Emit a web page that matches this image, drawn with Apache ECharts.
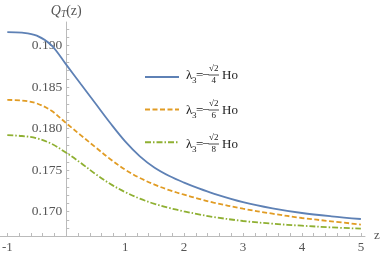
<!DOCTYPE html>
<html><head><meta charset="utf-8">
<script src="https://cdn.jsdelivr.net/npm/echarts@6/dist/echarts.min.js"></script>
<style>html,body{margin:0;padding:0;background:#fff}#c{width:382px;height:256px}</style>
</head><body><div id="c"></div>
<script>
const zValues = [-1, -0.75, -0.5, -0.25, 0, 0.25, 0.5, 0.75, 1, 1.25, 1.5, 1.75, 2, 2.25, 2.5, 3, 3.5, 4, 4.5, 5];
const qBlue   = [0.19165, 0.19158, 0.19122, 0.19005, 0.18772, 0.18535, 0.18300, 0.18065, 0.17847, 0.17667, 0.17530, 0.17430, 0.17350, 0.17280, 0.17218, 0.17115, 0.17040, 0.16984, 0.16944, 0.16912];
const qOrange = [0.18347, 0.18340, 0.18305, 0.18215, 0.18066, 0.17920, 0.17775, 0.17632, 0.17506, 0.17406, 0.17326, 0.17259, 0.17205, 0.17155, 0.17110, 0.17036, 0.16976, 0.16924, 0.16884, 0.16845];
const qGreen  = [0.17923, 0.17912, 0.17885, 0.17818, 0.17710, 0.17586, 0.17452, 0.17334, 0.17236, 0.17157, 0.17094, 0.17045, 0.17004, 0.16968, 0.16936, 0.16888, 0.16855, 0.16831, 0.16811, 0.16795];
const seriesNames = ['blue', 'orange', 'green'];
const denominators = ['4', '6', '8'];
const xTickLabels = [-1, 1, 2, 3, 4, 5];
const yTickLabels = [0.170, 0.175, 0.180, 0.185, 0.190];

const xMinor = []; for (let i = -5; i <= 25; i++) xMinor.push(+(i * 0.2).toFixed(2));
const yMinor = []; for (let i = 168; i <= 192; i++) yMinor.push(+(i / 1000).toFixed(3));

const serif = 'Liberation Serif';
const colors = ['#5E81B5', '#E19C24', '#8FB032'];
const textColor = '#555';
const pairs = a => zValues.map((z, i) => [z, a[i]]);

const X_MIN = -1.124, X_MAX = 5.07, GRID_LEFT = 0, GRID_RIGHT = 17, W = 382;
const zeroOffset = (W - GRID_LEFT - GRID_RIGHT) * (0 - X_MIN) / (X_MAX - X_MIN);

const chart = echarts.init(document.getElementById('c'), null, {renderer: 'canvas'});
const legendCenters = [77, 112, 146];
const graphics = [];
denominators.forEach((d, k) => {
  const c = legendCenters[k];
  graphics.push(
    {type: 'text', left: 186, top: c - 8, style: {text: 'λ', font: '13px ' + serif, fill: '#222'}},
    {type: 'text', left: 192, top: c - 1, style: {text: '3', font: '9px ' + serif, fill: '#222'}},
    {type: 'text', left: 196, top: c - 8, style: {text: '=', font: '13px ' + serif, fill: '#222'}},
    {type: 'text', left: 202, top: c - 8, style: {text: '−', font: '13px ' + serif, fill: '#222'}},
    {type: 'text', left: 209, top: c - 13, style: {text: '√2', font: '9px ' + serif, fill: '#222'}},
    {type: 'line', shape: {x1: 208.5, y1: c - 2, x2: 219, y2: c - 2}, style: {stroke: '#222', lineWidth: 0.8}},
    {type: 'text', left: 211.5, top: c - 0.5, style: {text: d, font: '9px ' + serif, fill: '#222'}},
    {type: 'text', left: 222, top: c - 8, style: {text: 'Ho', font: '13px ' + serif, fill: '#222'}}
  );
});

chart.setOption({
  animation: false,
  grid: {left: GRID_LEFT, right: GRID_RIGHT, top: 22, bottom: 20, containLabel: false, outerBoundsMode: 'none'},
  legend: {
    orient: 'vertical', left: 144, top: 70, padding: 0, itemWidth: 34, itemHeight: 14, itemGap: 20,
    itemStyle: {opacity: 0},
    formatter: () => '', data: seriesNames
  },
  graphic: graphics,
  xAxis: {
    type: 'value', min: X_MIN, max: X_MAX,
    name: 'z', nameLocation: 'end', nameGap: 9,
    nameTextStyle: {fontFamily: serif, fontSize: 13, color: textColor, padding: [11, 0, 0, 0]},
    axisLine: {onZero: false, lineStyle: {color: '#bbb', width: 1}},
    axisTick: {inside: true, length: 3, customValues: xMinor, lineStyle: {color: '#bbb'}},
    axisLabel: {customValues: xTickLabels, fontFamily: serif, fontSize: 13, color: textColor, margin: 5},
    splitLine: {show: false}
  },
  yAxis: {
    type: 'value', min: 0.16707, max: 0.19286, position: 'left', offset: -zeroOffset,
    name: '{q|Q}{t|T}{p|(z)}', nameLocation: 'end', nameGap: 3,
    nameTextStyle: {
      rich: {
        q: {fontFamily: serif, fontStyle: 'italic', fontSize: 14, color: textColor},
        t: {fontFamily: serif, fontStyle: 'italic', fontSize: 9.5, color: textColor, padding: [6, 0, 0, 0]},
        p: {fontFamily: serif, fontSize: 14, color: textColor}
      }
    },
    axisLine: {onZero: false, lineStyle: {color: '#bbb', width: 1}},
    axisTick: {inside: true, length: 3, customValues: yMinor, lineStyle: {color: '#bbb'}},
    axisLabel: {customValues: yTickLabels, formatter: v => v.toFixed(3), fontFamily: serif, fontSize: 13.5, color: textColor, margin: 4},
    splitLine: {show: false}
  },
  series: [
    {name: seriesNames[0], type: 'line', data: pairs(qBlue), smooth: 0.35, showSymbol: false, symbol: 'none',
     lineStyle: {color: colors[0], width: 1.8}, itemStyle: {color: colors[0]}},
    {name: seriesNames[1], type: 'line', data: pairs(qOrange), smooth: 0.35, showSymbol: false, symbol: 'none',
     lineStyle: {color: colors[1], width: 1.8, type: [5, 2.5]}, itemStyle: {color: colors[1]}},
    {name: seriesNames[2], type: 'line', data: pairs(qGreen), smooth: 0.35, showSymbol: false, symbol: 'none',
     lineStyle: {color: colors[2], width: 1.8, type: [6, 2, 1.5, 2]}, itemStyle: {color: colors[2]}}
  ]
});
</script></body></html>
